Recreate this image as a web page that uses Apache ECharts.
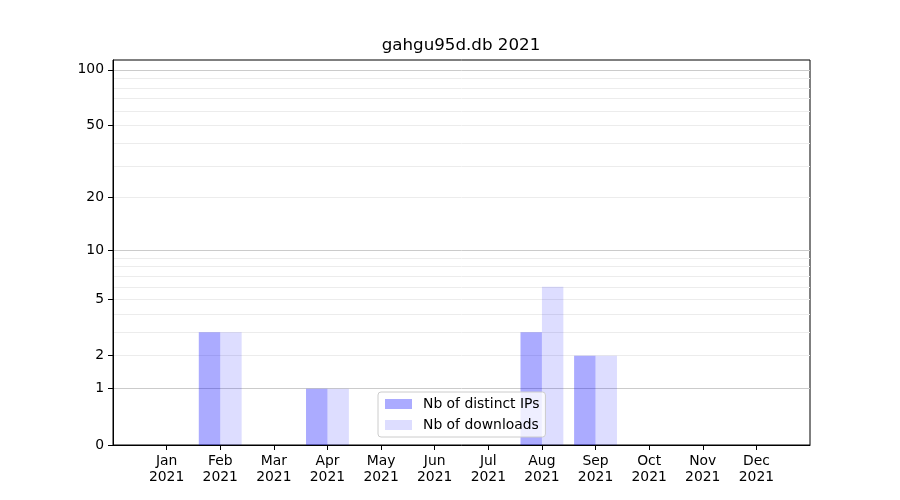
<!DOCTYPE html>
<html>
<head>
<meta charset="utf-8">
<script src="https://cdn.jsdelivr.net/npm/echarts@6/dist/echarts.min.js"></script>
<style>html,body{margin:0;padding:0;background:#fff}#c{width:900px;height:500px}</style>
</head>
<body>
<div id="c"></div>
<script>
const title = 'gahgu95d.db 2021';
const months = ['Jan\n2021','Feb\n2021','Mar\n2021','Apr\n2021','May\n2021','Jun\n2021','Jul\n2021','Aug\n2021','Sep\n2021','Oct\n2021','Nov\n2021','Dec\n2021'];
const distinctIPs = [0, 3, 0, 1, 0, 0, 0, 3, 2, 0, 0, 0];
const downloads   = [0, 3, 0, 1, 0, 0, 0, 6, 2, 0, 0, 0];
const yTickLabels = [0, 1, 2, 5, 10, 20, 50, 100];
const majorGrid = [1, 10, 100];
const minorGrid = [2, 3, 4, 5, 6, 7, 8, 9, 20, 30, 40, 50, 60, 70, 80, 90];
const yMax = 113;

const tf = v => Math.log10(1 + v);
const inv = t => Math.round(Math.pow(10, t) - 1);
const cats = [''].concat(months, ['']);
const pad = arr => [null].concat(arr.map(tf), [null]);
const FONT = 'DejaVu Sans';
const yMaxT = tf(yMax);

function hiddenY(values, color) {
  return {
    type: 'value', min: 0, max: yMaxT,
    axisLine: {show: false},
    axisLabel: {show: false, customValues: values.map(tf)},
    axisTick: {show: false, customValues: values.map(tf)},
    splitLine: {show: true, lineStyle: {color: color, width: 1}}
  };
}

const chart = echarts.init(document.getElementById('c'), null, {renderer: 'canvas'});
chart.setOption({
  animation: false,
  title: {
    text: title, left: 461, top: 37, textAlign: 'center', padding: 0,
    textStyle: {fontFamily: FONT, fontSize: 16.7, fontWeight: 'normal', color: '#000'}
  },
  grid: {left: 113, right: 90, top: 60, bottom: 55, show: true, borderColor: '#000', borderWidth: 1, backgroundColor: 'transparent'},
  legend: {
    orient: 'vertical', left: 378, top: 392,
    icon: 'rect',
    itemWidth: 27, itemHeight: 10, itemGap: 7,
    padding: [5, 6, 5, 7],
    backgroundColor: 'rgba(255,255,255,0.8)',
    borderColor: '#cccccc', borderWidth: 1, borderRadius: 3,
    textStyle: {fontFamily: FONT, fontSize: 13.9, color: '#000', padding: [0, 0, 0, 6]},
    data: ['Nb of distinct IPs', 'Nb of downloads']
  },
  xAxis: {
    type: 'category', data: cats, boundaryGap: false,
    axisLine: {show: true, lineStyle: {color: '#000', width: 1}},
    axisTick: {show: true, length: 5, interval: (i) => i > 0 && i < cats.length - 1, lineStyle: {color: '#000'}},
    axisLabel: {
      interval: (i) => i > 0 && i < cats.length - 1,
      margin: 8, color: '#000', fontFamily: FONT, fontSize: 13.9, lineHeight: 16
    },
    splitLine: {show: false}
  },
  yAxis: [
    {
      type: 'value', min: 0, max: yMaxT,
      axisLine: {show: true, lineStyle: {color: '#000', width: 1}},
      axisTick: {show: true, length: 5, customValues: yTickLabels.map(tf), lineStyle: {color: '#000'}},
      axisLabel: {
        customValues: yTickLabels.map(tf), margin: 9,
        color: '#000', fontFamily: FONT, fontSize: 13.9,
        formatter: (v) => String(inv(v))
      },
      splitLine: {show: false}
    },
    hiddenY(minorGrid, '#ececec'),
    hiddenY(majorGrid, '#cbcbcb')
  ],
  series: [
    {
      name: 'Nb of distinct IPs', type: 'bar', data: pad(distinctIPs),
      barWidth: '40%', barGap: '0%',
      itemStyle: {color: 'rgba(0,0,255,0.33)'}, z: 3
    },
    {
      name: 'Nb of downloads', type: 'bar', data: pad(downloads),
      barWidth: '40%', barGap: '0%',
      itemStyle: {color: 'rgba(0,0,255,0.135)'}, z: 3
    }
  ]
});
</script>
</body>
</html>
